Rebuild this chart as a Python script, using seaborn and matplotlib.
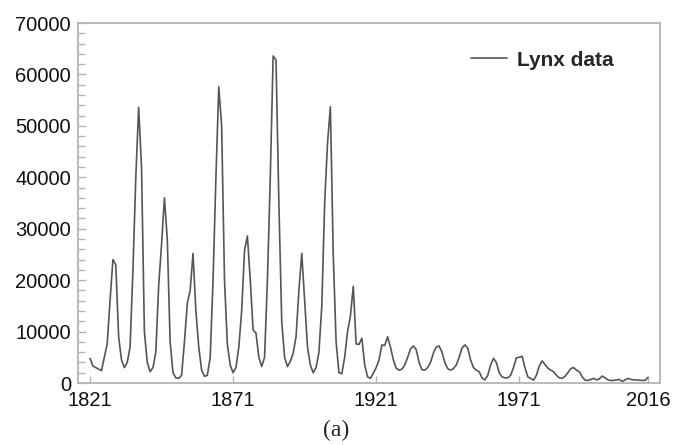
import numpy as np
import pandas as pd
import matplotlib
matplotlib.use("Agg")
import matplotlib.pyplot as plt
import seaborn as sns
from matplotlib.ticker import MultipleLocator, FixedLocator

# Annual lynx counts, 1821-2016
years = list(range(1821, 2017))
lynx = [
    4800, 3300, 3000, 2700, 2400, 5000, 7600, 16000, 24000, 23000,      # 1821-1830
    9000, 4500, 3000, 4000, 7000, 22000, 40000, 53600, 42000, 10000,    # 1831-1840
    4000, 2200, 3000, 6000, 19000, 27000, 36000, 28000, 8000, 2000,     # 1841-1850
    1000, 900, 1500, 8000, 15500, 18000, 25200, 14000, 7000, 2500,      # 1851-1860
    1300, 1500, 5000, 20000, 40000, 57600, 50000, 20000, 7500, 3500,    # 1861-1870
    2000, 3000, 7000, 14000, 25800, 28600, 20000, 10300, 9700, 5000,    # 1871-1880
    3200, 5000, 20000, 40000, 63600, 62800, 35000, 12000, 5000, 3200,   # 1881-1890
    4200, 5800, 9000, 18000, 25200, 16000, 7000, 3500, 2000, 3000,      # 1891-1900
    6000, 15000, 35000, 46600, 53700, 25000, 8000, 2000, 1800, 5000,    # 1901-1910
    10000, 13000, 18800, 7600, 7500, 8700, 3500, 1200, 900, 1900,       # 1911-1920
    3000, 4500, 7400, 7300, 9000, 7000, 4500, 2900, 2500, 2700,         # 1921-1930
    3500, 5000, 6600, 7200, 6500, 4000, 2600, 2500, 3000, 4000,         # 1931-1940
    5800, 7000, 7200, 6000, 4000, 2800, 2500, 2800, 3500, 5000,         # 1941-1950
    6800, 7400, 6800, 4500, 3000, 2500, 2200, 1000, 600, 1500,          # 1951-1960
    3500, 4800, 4000, 2000, 1200, 1000, 1000, 1500, 3000, 4900,         # 1961-1970
    5000, 5200, 3000, 1200, 900, 550, 1500, 3300, 4300, 3600,           # 1971-1980
    2900, 2500, 2200, 1500, 1000, 900, 1300, 2000, 2800, 3000,          # 1981-1990
    2500, 2200, 1200, 550, 500, 700, 900, 600, 800, 1350,               # 1991-2000
    1000, 600, 500, 500, 600, 700, 300, 600, 900, 700,                  # 2001-2010
    600, 600, 550, 500, 500, 1100,                                      # 2011-2016
]
year_ticks = [1821, 1871, 1921, 1971, 2016]
value_ticks = [0, 10000, 20000, 30000, 40000, 50000, 60000, 70000]
series_label = "Lynx data"
panel_label = "(a)"

df = pd.DataFrame({"year": years, "count": lynx})

sns.set_style("white")
plt.rcParams["font.family"] = ["Liberation Sans", "DejaVu Sans"]

fig = plt.figure(figsize=(6.73, 4.45), dpi=100)
ax = fig.add_axes([0.1159, 0.1393, 0.8648, 0.8090])

sns.lineplot(data=df, x="year", y="count", ax=ax, color="#555555",
             linewidth=1.2, label=series_label)

ax.set_xlim(1816.8, 2020.2)
ax.set_ylim(0, 70000)
ax.xaxis.set_major_locator(FixedLocator(year_ticks))
ax.yaxis.set_major_locator(FixedLocator(value_ticks))
ax.yaxis.set_minor_locator(MultipleLocator(2000))
ax.set_xlabel("")
ax.set_ylabel("")

grey = "#b4b4b4"
for s in ax.spines.values():
    s.set_color(grey)
    s.set_linewidth(1.3)

ax.tick_params(axis="both", which="both", direction="in", color=grey,
               width=1.0, labelsize=14.5, labelcolor="#111111")
ax.tick_params(axis="y", which="major", length=6, pad=5, left=True)
ax.tick_params(axis="y", which="minor", length=5, left=True)
ax.tick_params(axis="x", which="major", length=5, pad=6, bottom=True)

leg = ax.legend(loc="upper right", frameon=False, handlelength=1.7,
                handletextpad=0.5, bbox_to_anchor=(0.953, 0.975),
                prop={"weight": "bold", "size": 15})

fig.text(0.5, 0.033, panel_label, ha="center", va="center",
         fontsize=17, family=["Liberation Serif", "DejaVu Serif"])

fig.savefig("out.png", dpi=100)
